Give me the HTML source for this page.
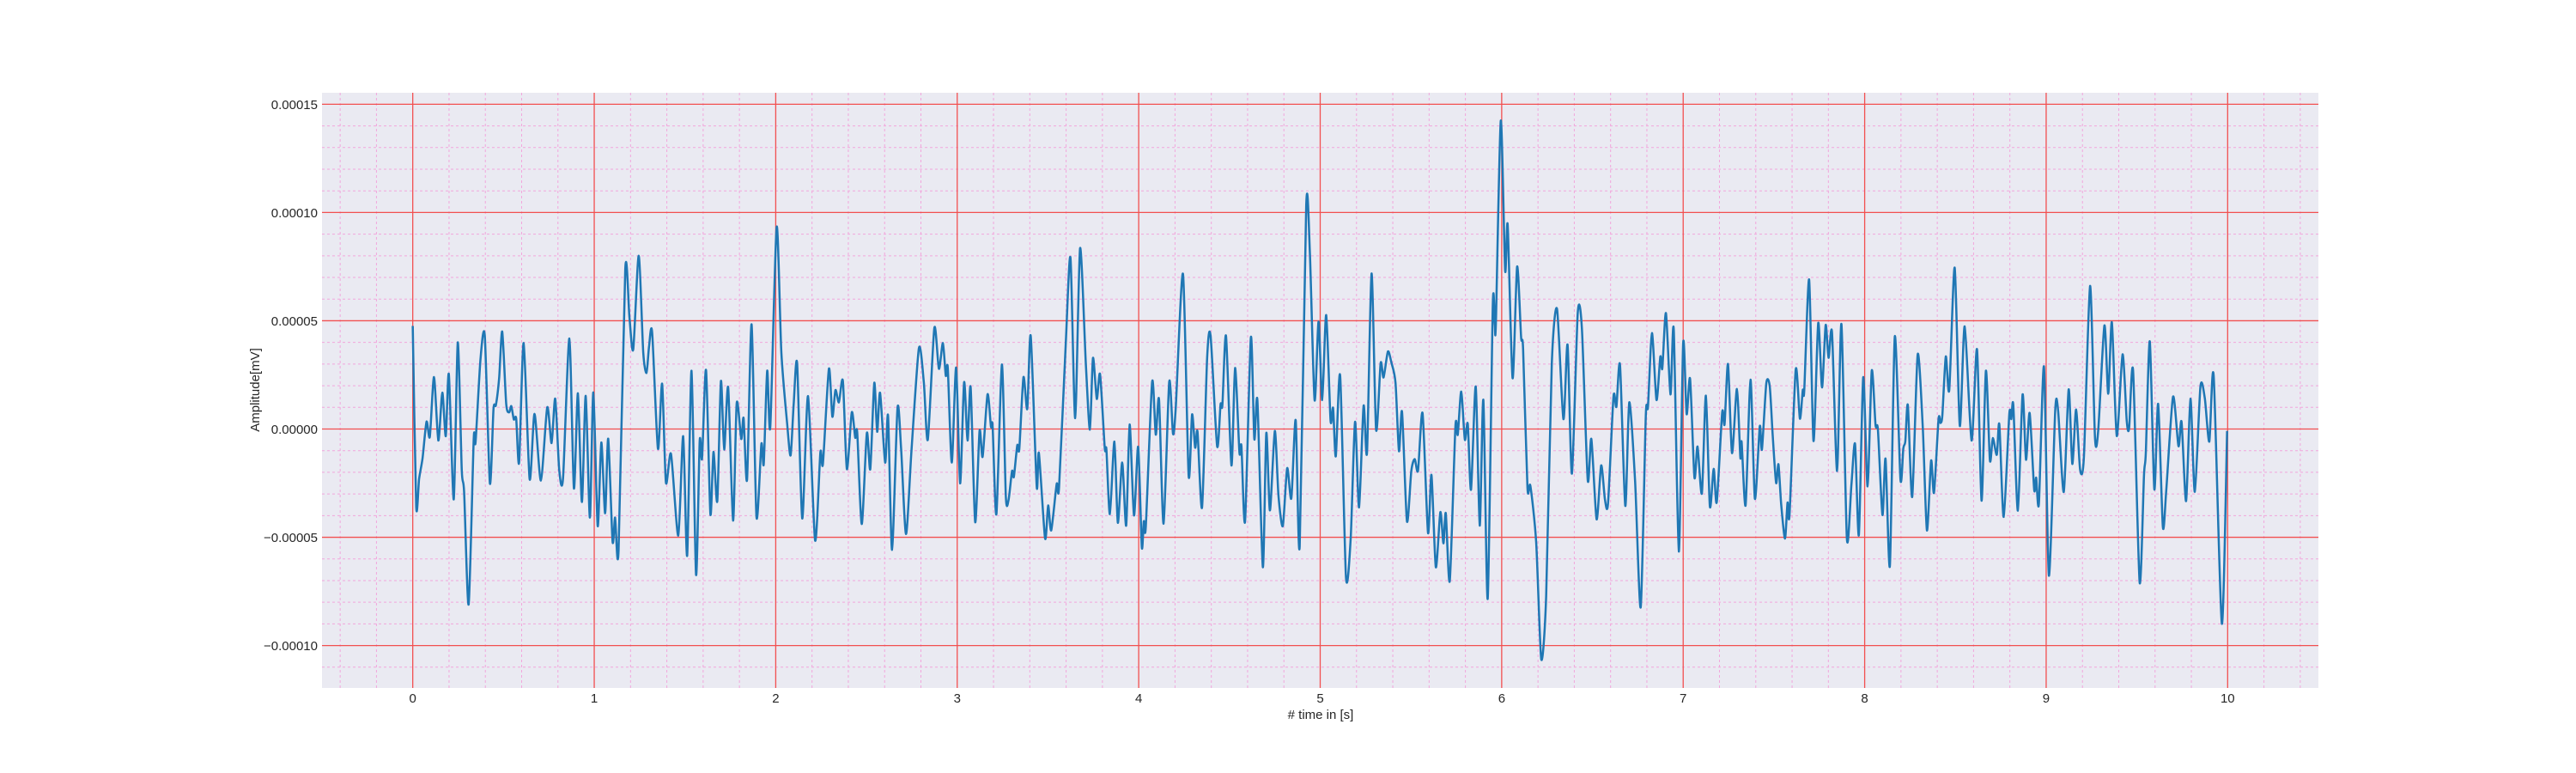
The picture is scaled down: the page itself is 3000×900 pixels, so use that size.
<!DOCTYPE html>
<html><head><meta charset="utf-8"><style>
html,body{margin:0;padding:0;background:#fff;}
svg{display:block;font-family:"Liberation Sans",Arial,sans-serif;}
</style></head><body>
<svg id="chart" width="3000" height="900" viewBox="0 0 3000 900" xmlns="http://www.w3.org/2000/svg">
<rect x="375" y="108" width="2325" height="693" fill="#eaeaf2"/>
<g id="grid"></g>
<g id="ticks"></g>
<g id="series"></g>
<text x="1538" y="837" text-anchor="middle" font-size="15" fill="#262626"># time in [s]</text>
<text transform="translate(302,454) rotate(-90)" text-anchor="middle" font-size="15" fill="#262626">Amplitude[mV]</text>
</svg>
<script>
const xTicks=[0,1,2,3,4,5,6,7,8,9,10];
const yTicks=[-0.0001,-0.00005,0,0.00005,0.0001,0.00015];
const yTickLabels=["\u22120.00010","\u22120.00005","0.00000","0.00005","0.00010","0.00015"];
const times=[0,0.019,0.035,0.054,0.076,0.094,0.117,0.141,0.163,0.182,0.199,0.226,0.248,0.27,0.283,0.308,0.336,0.346,0.373,0.397,0.425,0.445,0.458,0.476,0.493,0.515,0.531,0.543,0.557,0.57,0.586,0.611,0.644,0.671,0.706,0.741,0.765,0.785,0.807,0.828,0.863,0.888,0.91,0.932,0.953,0.976,0.995,1.019,1.039,1.06,1.077,1.101,1.115,1.134,1.171,1.194,1.215,1.245,1.27,1.288,1.302,1.319,1.351,1.374,1.395,1.423,1.463,1.49,1.512,1.536,1.561,1.581,1.594,1.616,1.64,1.657,1.678,1.698,1.716,1.738,1.765,1.785,1.81,1.823,1.842,1.867,1.894,1.921,1.934,1.953,1.97,2.005,2.031,2.063,2.082,2.099,2.118,2.146,2.178,2.217,2.246,2.26,2.293,2.312,2.329,2.348,2.37,2.392,2.419,2.438,2.449,2.474,2.502,2.521,2.543,2.559,2.575,2.603,2.619,2.641,2.671,2.691,2.718,2.748,2.789,2.816,2.838,2.874,2.899,2.921,2.937,2.948,2.97,2.994,3.016,3.038,3.057,3.074,3.099,3.123,3.14,3.167,3.186,3.195,3.216,3.246,3.268,3.283,3.302,3.312,3.331,3.342,3.365,3.386,3.405,3.438,3.45,3.484,3.501,3.518,3.548,3.561,3.598,3.624,3.65,3.677,3.709,3.731,3.748,3.769,3.787,3.813,3.822,3.841,3.866,3.885,3.909,3.931,3.95,3.974,3.997,4.017,4.028,4.039,4.074,4.094,4.112,4.137,4.168,4.189,4.204,4.244,4.275,4.294,4.311,4.324,4.349,4.377,4.396,4.432,4.451,4.461,4.481,4.511,4.531,4.555,4.566,4.586,4.618,4.637,4.654,4.684,4.703,4.723,4.75,4.77,4.794,4.818,4.841,4.865,4.887,4.923,4.943,4.969,4.991,5.011,5.033,5.057,5.071,5.086,5.11,5.142,5.168,5.192,5.214,5.239,5.258,5.283,5.308,5.333,5.349,5.373,5.392,5.415,5.434,5.451,5.478,5.502,5.521,5.539,5.564,5.594,5.613,5.637,5.662,5.679,5.692,5.714,5.745,5.758,5.777,5.797,5.813,5.831,5.857,5.879,5.899,5.923,5.951,5.962,5.968,5.995,6.019,6.033,6.06,6.085,6.107,6.118,6.142,6.158,6.19,6.218,6.245,6.276,6.305,6.34,6.363,6.387,6.419,6.442,6.474,6.494,6.523,6.548,6.569,6.586,6.616,6.632,6.652,6.681,6.703,6.735,6.766,6.794,6.806,6.828,6.853,6.874,6.885,6.905,6.93,6.948,6.976,7.0,7.019,7.038,7.062,7.079,7.103,7.125,7.147,7.168,7.185,7.215,7.228,7.247,7.269,7.296,7.315,7.322,7.344,7.371,7.395,7.422,7.434,7.458,7.477,7.493,7.512,7.525,7.54,7.561,7.575,7.586,7.62,7.643,7.659,7.667,7.694,7.718,7.744,7.765,7.785,7.801,7.82,7.848,7.872,7.902,7.927,7.947,7.968,7.992,8.016,8.039,8.06,8.073,8.098,8.115,8.139,8.166,8.197,8.213,8.224,8.238,8.262,8.292,8.32,8.343,8.366,8.382,8.407,8.418,8.428,8.447,8.466,8.496,8.524,8.551,8.589,8.619,8.644,8.668,8.69,8.706,8.728,8.742,8.766,8.797,8.808,8.819,8.844,8.87,8.889,8.909,8.934,8.945,8.96,8.988,9.015,9.05,9.066,9.097,9.124,9.144,9.165,9.187,9.208,9.242,9.269,9.287,9.321,9.342,9.362,9.389,9.421,9.444,9.457,9.479,9.515,9.539,9.549,9.571,9.596,9.617,9.643,9.662,9.699,9.729,9.746,9.771,9.795,9.819,9.85,9.874,9.899,9.923,9.968,9.997];
const values=[4.76,-3.57,-2.3,-1.35,0.34,-0.36,2.4,-0.53,1.68,-0.33,2.53,-3.25,4.0,-1.88,-2.9,-8.1,-0.46,-0.62,3.2,4.3,-2.5,0.93,1.1,2.35,4.5,1.16,0.77,1.06,0.44,0.48,-1.55,3.97,-2.31,0.7,-2.38,1.0,-0.65,1.4,-1.88,-2.28,4.18,-2.74,1.65,-3.37,1.53,-4.09,1.69,-4.48,-0.62,-3.89,-0.45,-5.19,-4.09,-5.62,7.38,5.16,3.68,8.0,3.54,2.59,3.81,4.47,-0.91,2.09,-2.47,-1.15,-4.92,-0.33,-5.85,2.69,-6.73,-0.56,-1.35,2.72,-3.93,-1.06,-3.33,2.21,-0.95,1.92,-4.23,1.2,-0.46,0.5,-2.34,4.83,-4.06,-0.69,-1.61,2.69,0.1,9.33,3.54,0.24,-1.22,1.16,3.02,-4.13,1.52,-5.15,-1.08,-1.61,2.78,0.57,1.8,1.23,2.22,-1.85,0.77,-0.4,-0.16,-4.39,-0.19,-1.85,2.13,-0.13,1.67,-1.55,0.61,-5.58,0.97,-0.93,-4.85,-0.99,3.74,2.16,-0.49,4.67,2.78,3.97,2.46,2.82,-1.55,2.84,-2.51,2.16,-0.53,1.93,-4.3,-0.09,-1.28,1.6,0.1,0.13,-3.93,2.98,-3.13,-3.27,-1.94,-2.21,-0.75,-0.93,2.39,0.93,4.3,-2.65,-1.11,-5.05,-3.53,-4.68,-2.54,-2.7,3.94,7.91,0.5,8.35,2.95,-0.03,3.28,1.39,2.53,-0.89,-0.95,-3.93,-0.58,-4.33,-1.55,-4.46,0.21,-3.99,-0.82,-5.45,-4.26,-4.52,2.18,-0.26,1.36,-4.37,2.18,-0.22,0.97,7.16,-2.14,0.67,-0.86,-0.13,-3.62,3.28,4.31,-0.79,1.14,1.1,4.3,-1.68,2.82,-1.08,-0.79,-4.26,4.23,-0.46,1.32,-6.38,-0.19,-3.76,-0.09,-3.07,-4.48,-1.81,-3.2,0.41,-5.41,10.33,8.17,1.34,4.96,1.34,5.26,0.4,0.97,-1.26,2.46,-6.84,-5.05,0.33,-3.62,1.07,-1.08,7.18,-0.03,3.04,2.38,3.58,3.08,2.13,-1.02,0.79,-4.26,-1.94,-1.39,-1.92,0.73,-4.79,-2.12,-6.38,-3.84,-5.28,-3.89,-7.01,0.11,-0.26,1.73,-0.49,0.24,-2.8,1.96,-4.46,1.34,-7.83,5.73,4.83,4.89,14.24,7.32,9.43,2.35,7.5,4.24,3.69,-2.71,-2.62,-5.23,-10.63,-7.72,3.0,5.54,0.46,3.89,-2.06,5.35,4.63,-2.35,-0.46,-4.17,-1.68,-3.26,-3.43,1.49,1.03,2.95,-3.55,1.23,-2.4,-8.23,0.6,1.03,4.43,1.34,3.34,2.8,5.35,1.6,4.6,-5.66,3.98,0.69,2.32,-2.23,-0.81,-2.97,1.54,-3.57,-1.84,-3.38,0.77,0.22,3.0,-1.11,1.85,-1.32,-0.6,-3.52,2.28,-3.22,0.12,-0.94,2.11,1.97,-0.26,-2.49,-1.63,-3.48,-5.06,-3.4,-3.95,2.74,0.48,1.8,1.77,6.9,-0.55,4.89,1.92,4.8,3.29,4.46,-1.94,4.84,-5.06,-2.57,-0.69,-4.9,2.39,-2.65,2.69,0.17,-0.03,-3.97,-1.38,-6.31,4.27,-2.31,-0.89,-0.56,1.1,-3.13,3.44,0.1,-4.68,-1.46,-2.94,0.46,0.28,0.63,3.35,1.8,7.45,0.15,4.74,-0.53,3.68,-3.31,2.69,-1.44,-0.42,-1.19,0.21,-4.06,0.7,0.46,1.1,-3.77,1.59,-1.42,0.74,-2.8,-2.25,-3.44,2.88,-6.77,0.87,0.83,-2.91,1.83,-1.61,0.9,-1.88,-1.28,6.61,-0.4,-0.05,4.78,1.63,4.93,-0.32,3.45,0.37,0.04,2.69,-7.08,-2.14,-1.12,4.05,-2.78,1.16,-4.52,-2.8,1.49,-0.79,0.33,-3.33,1.4,-2.9,1.96,1.43,-0.58,2.45,-8.99,-0.09];
const valueScale=1e-5;

const NS="http://www.w3.org/2000/svg";
const PL=375,PR=2700,PT=108,PB=801;
const XMIN=-0.5,XMAX=10.5,YMIN=-0.0001196,YMAX=0.0001553;
function xs(t){return PL+(t-XMIN)/(XMAX-XMIN)*(PR-PL);}
function ys(v){return PB-(v-YMIN)/(YMAX-YMIN)*(PB-PT);}
const grid=document.getElementById('grid');
const ticks=document.getElementById('ticks');
function line(x1,y1,x2,y2,stroke,w,dash){
  const l=document.createElementNS(NS,'line');
  l.setAttribute('x1',x1);l.setAttribute('y1',y1);l.setAttribute('x2',x2);l.setAttribute('y2',y2);
  l.setAttribute('stroke',stroke);l.setAttribute('stroke-width',w);
  if(dash)l.setAttribute('stroke-dasharray',dash);
  return l;
}
for(let k=-2;k<=52;k++){
  const t=k*0.2; if(t<XMIN||t>XMAX) continue; if(Math.abs(t-Math.round(t))<1e-9) continue;
  const l=line(xs(t),PT,xs(t),PB,'#f2a6dc',1,'3,3');
  
  
  grid.appendChild(l);
}
for(let k=-12;k<=15;k++){
  const v=k*1e-5; if(v<YMIN||v>YMAX) continue; if(k%5===0) continue;
  const l=line(PL,ys(v),PR,ys(v),'#f2a6dc',1,'3,3');
  
  
  grid.appendChild(l);
}
xTicks.forEach(t=>{
  const l=line(xs(t),PT,xs(t),PB,'#f25050',1.3);
  
  
  grid.appendChild(l);
  const tx=document.createElementNS(NS,'text');
  tx.setAttribute('x',xs(t));tx.setAttribute('y',818);tx.setAttribute('text-anchor','middle');
  tx.setAttribute('font-size','15');tx.setAttribute('fill','#262626');
  tx.textContent=String(t);
  
  
  ticks.appendChild(tx);
});
yTicks.forEach((v,i)=>{
  const l=line(PL,ys(v),PR,ys(v),'#f25050',1.3);
  
  
  grid.appendChild(l);
  const tx=document.createElementNS(NS,'text');
  tx.setAttribute('x',370);tx.setAttribute('y',ys(v)+5.5);tx.setAttribute('text-anchor','end');
  tx.setAttribute('font-size','15');tx.setAttribute('fill','#262626');
  tx.textContent=yTickLabels[i];
  
  
  ticks.appendChild(tx);
});
const pts=times.map((t,i)=>[xs(t),ys(values[i]*valueScale)]);
let d='M'+pts[0][0].toFixed(2)+','+pts[0][1].toFixed(2);
const TF=8;
for(let i=0;i<pts.length-1;i++){
  const p0=pts[Math.max(0,i-1)],p1=pts[i],p2=pts[i+1],p3=pts[Math.min(pts.length-1,i+2)];
  const c1x=p1[0]+(p2[0]-p0[0])/TF,c1y=p1[1]+(p2[1]-p0[1])/TF;
  const c2x=p2[0]-(p3[0]-p1[0])/TF,c2y=p2[1]-(p3[1]-p1[1])/TF;
  d+=' C'+c1x.toFixed(2)+','+c1y.toFixed(2)+' '+c2x.toFixed(2)+','+c2y.toFixed(2)+' '+p2[0].toFixed(2)+','+p2[1].toFixed(2);
}
const path=document.createElementNS(NS,'path');
path.setAttribute('d',d);path.setAttribute('fill','none');path.setAttribute('stroke','#1f77b4');
path.setAttribute('stroke-width','2.5');path.setAttribute('stroke-linejoin','round');


document.getElementById('series').appendChild(path);
</script>
</body></html>
